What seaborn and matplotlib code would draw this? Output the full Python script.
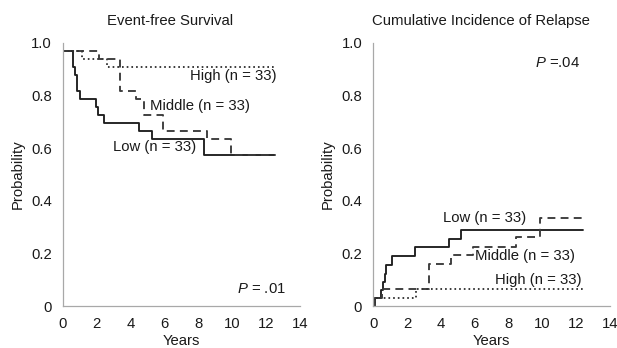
import numpy as np
import pandas as pd
import matplotlib
matplotlib.use("Agg")
import matplotlib.pyplot as plt
import seaborn as sns

# ---- data ----
groups = ["Low", "Middle", "High"]

efs_low_t = [0, 0.6, 0.72, 0.84, 1.03, 1.95, 2.05, 2.45, 4.47, 5.26, 8.3, 12.5]
efs_low_v = [0.970, 0.909, 0.879, 0.818, 0.788, 0.758, 0.727, 0.697, 0.667, 0.636, 0.576, 0.576]
efs_mid_t = [0, 2.1, 3.38, 4.3, 4.78, 5.92, 8.5, 9.9, 12.5]
efs_mid_v = [0.970, 0.939, 0.818, 0.788, 0.727, 0.667, 0.636, 0.576, 0.576]
efs_high_t = [0, 1.1, 2.6, 12.6]
efs_high_v = [0.970, 0.939, 0.909, 0.909]

cir_low_t = [0, 0.1, 0.45, 0.58, 0.68, 0.78, 1.1, 2.48, 4.45, 5.2, 12.4]
cir_low_v = [0.0, 0.030, 0.061, 0.091, 0.121, 0.155, 0.192, 0.223, 0.255, 0.288, 0.288]
cir_mid_t = [0, 0.1, 0.5, 3.32, 4.6, 5.9, 8.42, 9.85, 12.4]
cir_mid_v = [0.0, 0.030, 0.064, 0.160, 0.194, 0.223, 0.264, 0.333, 0.333]
cir_high_t = [0, 0.1, 2.55, 12.4]
cir_high_v = [0.0, 0.030, 0.064, 0.064]

labels_n = ["Low (n = 33)", "Middle (n = 33)", "High (n = 33)"]
titles = ["Event-free Survival", "Cumulative Incidence of Relapse"]
p_texts = [r"$\mathit{P}$ = .01", r"$\mathit{P}$ =.04"]
yticks = [0, 0.2, 0.4, 0.6, 0.8, 1.0]
ytick_labels = ["0", "0.2", "0.4", "0.6", "0.8", "1.0"]
xticks = [0, 2, 4, 6, 8, 10, 12, 14]


def long_df(t_lists, v_lists):
    rows = []
    for g, ts, vs in zip(groups, t_lists, v_lists):
        for i, (t, v) in enumerate(zip(ts, vs)):
            rows.append({"group": g, "Years": t, "Probability": v, "order": i})
    return pd.DataFrame(rows)


efs = long_df([efs_low_t, efs_mid_t, efs_high_t], [efs_low_v, efs_mid_v, efs_high_v])
cir = long_df([cir_low_t, cir_mid_t, cir_high_t], [cir_low_v, cir_mid_v, cir_high_v])

sns.set_style("white")
plt.rcParams["font.family"] = ["Liberation Sans", "DejaVu Sans"]
plt.rcParams["mathtext.fontset"] = "custom"
plt.rcParams["mathtext.rm"] = "Liberation Sans"
plt.rcParams["mathtext.it"] = "Liberation Sans:italic"

W, H = 617, 348
fig = plt.figure(figsize=(W / 100, H / 100), dpi=100)

ax_pos = [(63, 300), (373.3, 610)]
y_top, y_bot = 43, 306

palette = {"Low": "#1e1e1e", "Middle": "#3a3a3a", "High": "#333333"}
dashes = {"Low": "", "Middle": (4.2, 2.8), "High": (0.9, 1.6)}

axes = []
for (x0, x1) in ax_pos:
    ax = fig.add_axes([x0 / W, (H - y_bot) / H, (x1 - x0) / W, (y_bot - y_top) / H])
    axes.append(ax)

for ax, df in zip(axes, [efs, cir]):
    sns.lineplot(data=df, x="Years", y="Probability", hue="group", style="group",
                 palette=palette, dashes=dashes, estimator=None, sort=False,
                 drawstyle="steps-post", linewidth=1.35, legend=False, ax=ax)

fs = 10.7
for i, ax in enumerate(axes):
    ax.set_xlim(0, 14)
    ax.set_ylim(0, 1.0)
    ax.set_xticks(xticks)
    ax.set_xticklabels([str(x) for x in xticks])
    ax.set_yticks(yticks)
    ax.set_yticklabels(ytick_labels)
    for s in ["top", "right"]:
        ax.spines[s].set_visible(False)
    for s in ["left", "bottom"]:
        ax.spines[s].set_color("#a8a8a8")
        ax.spines[s].set_linewidth(0.9)
    ax.tick_params(axis="both", direction="out", length=3, width=0.8, color="#a8a8a8",
                   labelsize=fs, labelcolor="#1a1a1a", pad=5)
    ax.tick_params(axis="x", pad=5)
    ax.set_xlabel("Years", fontsize=fs, color="#1a1a1a")
    ax.set_ylabel("Probability", fontsize=fs, color="#1a1a1a")
    ax.xaxis.set_label_coords(0.5, -0.105)
    ax.yaxis.set_label_coords(-0.162, 0.5)

# titles
fig.text(170 / W, 1 - 20.7 / H, titles[0], ha="center", va="center", fontsize=fs, color="#1a1a1a")
fig.text(481 / W, 1 - 20.7 / H, titles[1], ha="center", va="center", fontsize=fs, color="#1a1a1a")

tc = "#1a1a1a"
a0, a1 = axes
a0.text(12.63, 0.875, labels_n[2], ha="right", va="center", fontsize=fs, color=tc)
a0.text(5.16, 0.76, labels_n[1], ha="left", va="center", fontsize=fs, color=tc)
a0.text(2.96, 0.606, labels_n[0], ha="left", va="center", fontsize=fs, color=tc)
a0.text(10.27, 0.065, p_texts[0], ha="left", va="center", fontsize=fs, color=tc)

a1.text(9.55, 0.924, p_texts[1], ha="left", va="center", fontsize=fs, color=tc)
a1.text(4.14, 0.333, labels_n[0], ha="left", va="center", fontsize=fs, color=tc)
a1.text(6.01, 0.191, labels_n[1], ha="left", va="center", fontsize=fs, color=tc)
a1.text(7.19, 0.099, labels_n[2], ha="left", va="center", fontsize=fs, color=tc)

fig.savefig("out.png", dpi=100)
